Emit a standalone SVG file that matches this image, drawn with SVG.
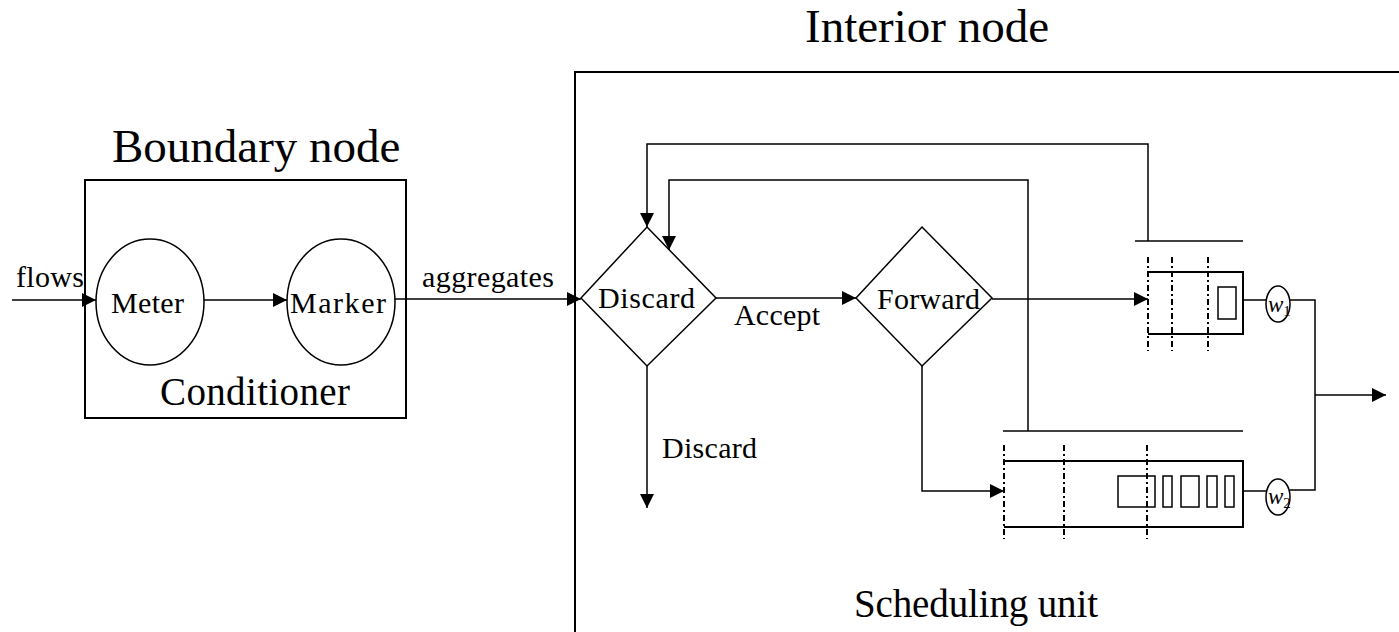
<svg xmlns="http://www.w3.org/2000/svg" width="1399" height="632" viewBox="0 0 1399 632">
  <style>
    text { font-family: "Liberation Serif", "Times New Roman", serif; fill: #000; }
    .box { fill: none; stroke: #000; stroke-width: 2; }
    .shape { fill: #fff; stroke: #000; stroke-width: 1.5; }
    .wire { fill: none; stroke: #000; stroke-width: 1.5; }
    .arrow { fill: none; stroke: #000; stroke-width: 1.5; marker-end: url(#head); }
    .slot { fill: none; stroke: #000; stroke-width: 2; stroke-dasharray: 6 3 2 3; }
    .pkt { fill: none; stroke: #000; stroke-width: 1.5; }
    .title { font-size: 47px; }
    .cap { font-size: 39px; }
    .lbl { font-size: 30px; }
    .wt { font-size: 23px; font-style: italic; }
    .sub { font-size: 15px; }
  </style>
  <defs>
    <marker id="head" markerUnits="userSpaceOnUse" markerWidth="14" markerHeight="14" refX="14" refY="7" orient="auto">
      <path d="M0,0 L14,7 L0,14 Z" fill="#000"/>
    </marker>
  </defs>
  <rect width="1399" height="632" fill="#fff"/>

  <!-- Boundary node with its conditioner -->
  <g id="boundary-node">
    <text class="title" x="112" y="162">Boundary node</text>
    <rect class="box" x="85" y="180" width="321" height="238"/>
    <text class="cap" x="160" y="405" textLength="190">Conditioner</text>
  </g>
  <g id="meter">
    <ellipse class="shape" cx="150" cy="302" rx="54" ry="63"/>
    <text class="lbl" x="111" y="313" textLength="73">Meter</text>
  </g>
  <g id="marker">
    <ellipse class="shape" cx="341" cy="302" rx="54" ry="63"/>
    <text class="lbl" x="290" y="313" textLength="96">Marker</text>
  </g>

  <!-- Interior node frame (runs past the right and bottom edges) -->
  <g id="interior-node">
    <text class="title" x="805" y="42">Interior node</text>
    <path class="box" d="M575,640 V72 H1410"/>
    <text class="cap" x="854" y="617" textLength="244">Scheduling unit</text>
  </g>

  <g id="discard">
    <polygon class="shape" points="647,227 716,298 647,366 581,298"/>
    <text class="lbl" x="598" y="308" textLength="97">Discard</text>
  </g>
  <g id="forward">
    <polygon class="shape" points="922,227 992,298 922,366 856,298"/>
    <text class="lbl" x="877" y="309" textLength="103">Forward</text>
  </g>

  <!-- Queue 1: single-packet buffer -->
  <g id="queue1">
    <path class="box" d="M1148,272 H1243 V334 H1148"/>
    <line class="wire" x1="1135" y1="241" x2="1243" y2="241"/>
    <line class="slot" x1="1148" y1="257" x2="1148" y2="351"/>
    <line class="slot" x1="1172" y1="257" x2="1172" y2="351"/>
    <line class="slot" x1="1208" y1="257" x2="1208" y2="351"/>
    <rect class="pkt" x="1218" y="287" width="18" height="32"/>
  </g>

  <!-- Queue 2: multi-packet buffer -->
  <g id="queue2">
    <path class="box" d="M1004,461 H1243 V527 H1004"/>
    <line class="wire" x1="1003" y1="431" x2="1243" y2="431"/>
    <line class="slot" x1="1004" y1="445" x2="1004" y2="539"/>
    <line class="slot" x1="1064" y1="445" x2="1064" y2="539"/>
    <line class="slot" x1="1147" y1="445" x2="1147" y2="539"/>
    <rect class="pkt" x="1118" y="476" width="37" height="31"/>
    <rect class="pkt" x="1163" y="476" width="9" height="31"/>
    <rect class="pkt" x="1181" y="476" width="18" height="31"/>
    <rect class="pkt" x="1207" y="476" width="10" height="31"/>
    <rect class="pkt" x="1225" y="476" width="9" height="31"/>
  </g>

  <g id="w1">
    <ellipse class="shape" cx="1278" cy="304" rx="12" ry="18"/>
    <text x="1268" y="312"><tspan class="wt">w</tspan><tspan class="sub" dy="4">1</tspan></text>
  </g>
  <g id="w2">
    <ellipse class="shape" cx="1278" cy="497" rx="12" ry="18"/>
    <text x="1268" y="504"><tspan class="wt">w</tspan><tspan class="sub" dy="4">2</tspan></text>
  </g>

  <!-- Connectors -->
  <g id="connectors">
    <line class="arrow" x1="12" y1="300" x2="96" y2="300"/>
    <line class="arrow" x1="204" y1="300" x2="287" y2="300"/>
    <line class="arrow" x1="395" y1="299" x2="581" y2="299"/>
    <line class="arrow" x1="716" y1="298" x2="856" y2="298"/>
    <line class="arrow" x1="647" y1="366" x2="647" y2="508"/>
    <polyline class="arrow" points="992,299 1148,299"/>
    <polyline class="arrow" points="922,366 922,491 1004,491"/>
    <polyline class="arrow" points="1148,241 1148,144 647,144 647,227"/>
    <polyline class="arrow" points="1028,431 1028,180 669,180 669,250"/>
    <line class="wire" x1="1243" y1="300" x2="1266" y2="300"/>
    <line class="wire" x1="1243" y1="491" x2="1266" y2="491"/>
    <polyline class="wire" points="1290,300 1315,300 1315,490 1290,490"/>
    <line class="arrow" x1="1315" y1="395" x2="1386" y2="395"/>
  </g>

  <!-- Edge labels -->
  <g id="labels">
    <text class="lbl" x="16" y="287" textLength="68">flows</text>
    <text class="lbl" x="422" y="287" textLength="132">aggregates</text>
    <text class="lbl" x="734" y="325" textLength="86">Accept</text>
    <text class="lbl" x="662" y="458" textLength="95">Discard</text>
  </g>
</svg>
